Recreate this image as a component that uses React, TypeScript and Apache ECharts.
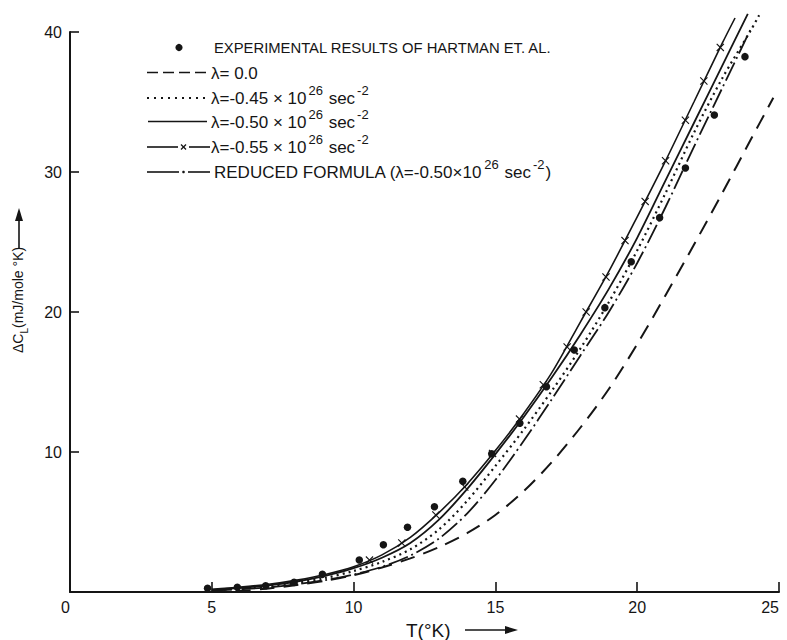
import React, { useEffect, useRef } from "react";
import * as echarts from "echarts";

const FONT = "'Liberation Sans', Arial, sans-serif";
const INK = "#151515";

const X_MIN = 0;
const X_MAX = 25;
const X_STEP = 5;
const Y_MIN = 0;
const Y_MAX = 40;
const Y_STEP = 10;

// Experimental points (Hartman et al.)
const expT = [4.85, 5.9, 6.9, 7.9, 8.9, 10.2, 11.05, 11.9, 12.85, 13.85, 14.87, 15.86, 16.8, 17.78, 18.86, 19.79, 20.79, 21.7, 22.72, 23.8];
const expC = [0.26, 0.34, 0.45, 0.69, 1.26, 2.29, 3.38, 4.62, 6.09, 7.91, 9.88, 12.05, 14.66, 17.29, 20.31, 23.59, 26.74, 30.29, 34.07, 38.24];

// lambda = 0.0 (dashed)
const lam0T = [5, 6, 7, 8, 9, 10, 11, 12, 13, 14, 15, 16, 17, 18, 19, 20, 21, 22, 23, 24, 24.8];
const lam0C = [0.02, 0.08, 0.25, 0.5, 0.8, 1.2, 1.75, 2.4, 3.2, 4.2, 5.5, 7.2, 9.3, 11.75, 14.5, 17.7, 21.2, 24.8, 28.5, 32.3, 35.3];

// lambda = -0.45e26 (dotted)
const lam045T = [5, 6, 7, 8, 9, 10, 11, 12, 13, 14, 15, 16, 17, 18, 19, 20, 21, 22, 23, 24, 24.3];
const lam045C = [0.12, 0.25, 0.4, 0.65, 1.0, 1.5, 2.15, 3.05, 4.45, 6.5, 9.0, 11.6, 14.4, 17.4, 20.7, 24.4, 28.5, 32.8, 36.7, 40.1, 41.2];

// lambda = -0.50e26 (solid)
const lam050T = [5, 6, 7, 8, 9, 10, 11, 12, 13, 14, 15, 16, 17, 18, 19, 20, 21, 22, 23, 23.9];
const lam050C = [0.15, 0.3, 0.48, 0.75, 1.15, 1.7, 2.45, 3.5, 5.15, 7.35, 9.85, 12.5, 15.35, 18.4, 21.65, 25.3, 29.4, 33.5, 37.6, 41.3];

// lambda = -0.55e26 (solid with crosses)
const lam055T = [5, 6, 7, 8, 9, 10, 11, 12, 13, 14, 15, 16, 17, 18, 19, 20, 21, 22, 23, 23.45];
const lam055C = [0.2, 0.35, 0.55, 0.85, 1.25, 1.8, 2.65, 3.9, 5.65, 7.7, 10.1, 12.75, 15.7, 19.3, 22.9, 26.8, 30.8, 35.0, 39.2, 41.0];
const mark055T = [10.56, 11.7, 12.9, 13.92, 14.9, 15.85, 16.69, 17.53, 18.2, 18.9, 19.57, 20.28, 21.0, 21.7, 22.35, 22.93];
const mark055C = [2.28, 3.5, 5.5, 7.5, 9.9, 12.35, 14.8, 17.5, 20.0, 22.5, 25.1, 27.9, 30.8, 33.7, 36.5, 38.9];

// reduced formula (dash-dot)
const redT = [5, 6, 7, 8, 9, 10, 11, 12, 13, 14, 15, 16, 17, 18, 19, 20, 21, 22, 23, 24];
const redC = [0.1, 0.2, 0.33, 0.55, 0.85, 1.25, 1.8, 2.6, 3.8, 5.6, 8.0, 10.8, 13.8, 16.9, 20.0, 23.5, 27.5, 31.8, 36.0, 40.2];

// texts
const legendExp = "EXPERIMENTAL RESULTS OF HARTMAN ET. AL.";
const legendL0 = "{b|λ= 0.0}";
const legendL045 = "{b|λ=-0.45 × 10}{s|26}{b| sec}{s|-2}";
const legendL050 = "{b|λ=-0.50 × 10}{s|26}{b| sec}{s|-2}";
const legendL055 = "{b|λ=-0.55 × 10}{s|26}{b| sec}{s|-2}";
const legendRed = "{b|REDUCED FORMULA (λ=-0.50×10}{s|26}{b| sec}{s|-2}{b|)}";
const xTitle = "T(°K)";
const yTitle = "{b|ΔC}{sub|L}{b|(mJ/mole °K)}";

const CROSS = "path://M1,0L5,4L9,0L10,1L6,5L10,9L9,10L5,6L1,10L0,9L4,5L0,1Z";

const pairs = (xs: number[], ys: number[]) => xs.map((x, i) => [x, ys[i]]);

const richSup = {
  b: { fontSize: 17, fontFamily: FONT, color: INK, lineHeight: 23, verticalAlign: "bottom" },
  s: { fontSize: 13, fontFamily: FONT, color: INK, lineHeight: 13, verticalAlign: "top", padding: [0, 1, 0, 2] },
};

function legendRow(y: number, kind: string, text: string) {
  const els: any[] = [];
  const x0 = 147;
  const x1 = 210;
  const ls = { stroke: INK, lineWidth: 1.6 };
  if (kind === "dash") {
    els.push({ type: "line", shape: { x1: x0, y1: y, x2: x1, y2: y }, style: { ...ls, lineDash: [11, 5] } });
  } else if (kind === "dot") {
    els.push({ type: "line", shape: { x1: x0, y1: y, x2: x1 - 3, y2: y }, style: { ...ls, lineWidth: 1.8, lineDash: [2, 5] } });
  } else if (kind === "solid") {
    els.push({ type: "line", shape: { x1: x0 + 1, y1: y, x2: x1 - 3, y2: y }, style: ls });
  } else if (kind === "cross") {
    els.push({ type: "line", shape: { x1: x0, y1: y, x2: 178, y2: y }, style: ls });
    els.push({ type: "line", shape: { x1: 181, y1: y - 2.5, x2: 186, y2: y + 2.5 }, style: { ...ls, lineWidth: 1.2 } });
    els.push({ type: "line", shape: { x1: 181, y1: y + 2.5, x2: 186, y2: y - 2.5 }, style: { ...ls, lineWidth: 1.2 } });
    els.push({ type: "line", shape: { x1: 189, y1: y, x2: x1, y2: y }, style: ls });
  } else if (kind === "dashdot") {
    els.push({ type: "line", shape: { x1: x0, y1: y, x2: 179, y2: y }, style: ls });
    els.push({ type: "circle", shape: { cx: 183.5, cy: y, r: 1.3 }, style: { fill: INK } });
    els.push({ type: "line", shape: { x1: 188, y1: y, x2: x1, y2: y }, style: ls });
  }
  els.push({
    type: "text",
    x: kind === "dashdot" ? 214 : 211,
    y: y - 2.5,
    style: { text, rich: richSup, fill: INK, font: `17px ${FONT}`, verticalAlign: "middle", align: "left" },
  });
  return els;
}

export default function App() {
  const ref = useRef<HTMLDivElement>(null);
  useEffect(() => {
    const chart = echarts.init(ref.current!, null, { renderer: "svg" });
    const lineBase = {
      type: "line",
      symbol: "none",
      showSymbol: false,
      smooth: 0.3,
      clip: false,
      silent: true,
      z: 3,
    };
    const option: any = {
      animation: false,
      backgroundColor: "#ffffff",
      grid: { left: 70, right: 8, top: 32, bottom: 48, containLabel: false, outerBoundsMode: "none" },
      xAxis: {
        type: "value",
        min: X_MIN,
        max: X_MAX,
        interval: X_STEP,
        axisLine: { show: true, onZero: false, lineStyle: { color: INK, width: 2 } },
        axisTick: { show: true, inside: true, length: 10, lineStyle: { color: INK, width: 1.6 } },
        axisLabel: { color: INK, fontSize: 16, fontFamily: FONT, margin: 7, alignMinLabel: "right", alignMaxLabel: "right" },
        splitLine: { show: false },
      },
      yAxis: {
        type: "value",
        min: Y_MIN,
        max: Y_MAX,
        interval: Y_STEP,
        axisLine: { show: true, onZero: false, lineStyle: { color: INK, width: 2 } },
        axisTick: { show: true, inside: true, length: 9, lineStyle: { color: INK, width: 1.6 } },
        axisLabel: { color: INK, fontSize: 16, fontFamily: FONT, margin: 8, showMinLabel: false },
        splitLine: { show: false },
      },
      series: [
        { ...lineBase, data: pairs(lam0T, lam0C), lineStyle: { color: INK, width: 2, type: [15, 9] } },
        { ...lineBase, data: pairs(lam045T, lam045C), lineStyle: { color: INK, width: 2.2, type: [2, 4] } },
        { ...lineBase, data: pairs(lam050T, lam050C), lineStyle: { color: INK, width: 1.8, type: "solid" } },
        { ...lineBase, data: pairs(lam055T, lam055C), lineStyle: { color: INK, width: 1.6, type: "solid" } },
        { ...lineBase, data: pairs(redT, redC), lineStyle: { color: INK, width: 1.8, type: [20, 4, 2, 4] } },
        {
          type: "scatter",
          data: pairs(mark055T, mark055C),
          symbol: CROSS,
          symbolSize: 8,
          itemStyle: { color: INK, opacity: 1 },
          clip: false,
          silent: true,
          z: 4,
        },
        {
          type: "scatter",
          data: pairs(expT, expC),
          symbol: "circle",
          symbolSize: 7.5,
          itemStyle: { color: INK, opacity: 1 },
          clip: false,
          silent: true,
          z: 5,
        },
      ],
      graphic: [
        { type: "circle", shape: { cx: 179, cy: 47.5, r: 3.6 }, style: { fill: INK } },
        {
          type: "text",
          x: 214,
          y: 48,
          style: { text: legendExp, fill: INK, font: `14.8px ${FONT}`, verticalAlign: "middle", align: "left" },
        },
        ...legendRow(72.5, "dash", legendL0),
        ...legendRow(98, "dot", legendL045),
        ...legendRow(121.5, "solid", legendL050),
        ...legendRow(147, "cross", legendL055),
        ...legendRow(172, "dashdot", legendRed),
        {
          type: "text",
          x: 406,
          y: 630,
          style: { text: xTitle, fill: INK, font: `19px ${FONT}`, verticalAlign: "middle", align: "left" },
        },
        { type: "line", shape: { x1: 465, y1: 630, x2: 508, y2: 630 }, style: { stroke: INK, lineWidth: 1.6 } },
        { type: "polygon", shape: { points: [[505, 626], [518, 630], [505, 634]] }, style: { fill: INK } },
        {
          type: "text",
          x: 20,
          y: 300,
          rotation: Math.PI / 2,
          style: {
            text: yTitle,
            rich: {
              b: { fontSize: 14, fontFamily: FONT, color: INK, lineHeight: 18, verticalAlign: "top" },
              sub: { fontSize: 10, fontFamily: FONT, color: INK, lineHeight: 10, verticalAlign: "bottom" },
            },
            fill: INK,
            font: `14px ${FONT}`,
            align: "center",
            verticalAlign: "middle",
          },
        },
        { type: "line", shape: { x1: 19, y1: 248, x2: 19, y2: 218 }, style: { stroke: INK, lineWidth: 1.6 } },
        { type: "polygon", shape: { points: [[15, 221], [19, 208], [23, 221]] }, style: { fill: INK } },
      ],
    };
    chart.setOption(option);
    return () => chart.dispose();
  }, []);
  return (
    <div
      ref={ref}
      style={{ position: "absolute", left: 0, top: 0, width: 787, height: 640, background: "#fff" }}
    />
  );
}
